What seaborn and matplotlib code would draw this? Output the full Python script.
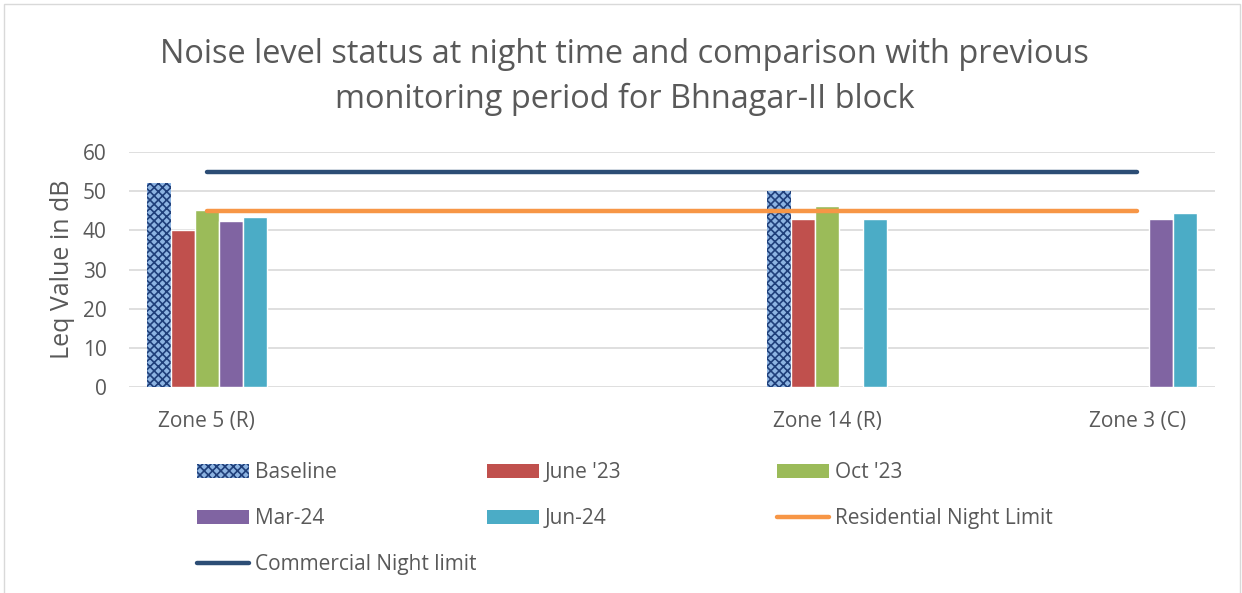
import numpy as np
import pandas as pd
import matplotlib
matplotlib.use("Agg")
import matplotlib.pyplot as plt
import seaborn as sns
from matplotlib.patches import Patch, Rectangle
from matplotlib.lines import Line2D

sns.set_theme(style="white")
plt.rcParams["font.family"] = ["Open Sans", "DejaVu Sans"]
plt.rcParams["hatch.linewidth"] = 1.2

# --- data ---
zones = ["Zone 5 (R)", "", "Zone 14 (R)", "Zone 3 (C)"]
periods = ["Baseline", "June '23", "Oct '23", "Mar-24", "Jun-24"]
baseline = [52, None, 50, None]
june23 = [40, None, 43, None]
oct23 = [45.2, None, 46.3, None]
mar24 = [42.3, None, None, 43]
jun24 = [43.4, None, 42.9, 44.5]
residential_limit = [45, 45, 45, 45]
commercial_limit = [55, 55, 55, 55]

colors = ["#8db4e2", "#c0504d", "#9bbb59", "#8064a2", "#4bacc6"]
res_color = "#f79646"
com_color = "#2c4d75"
grey = "#595959"

rows = []
for p, vals in zip(periods, [baseline, june23, oct23, mar24, jun24]):
    for z, v in zip(zones, vals):
        if v is not None:
            rows.append({"zone": z, "period": p, "value": v})
df = pd.DataFrame(rows)

fig = plt.figure(figsize=(12.42, 5.93), dpi=100)
ax = fig.add_axes([129 / 1242, 1 - 387 / 593, (1215 - 129) / 1242, (387 - 152) / 593])

sns.barplot(data=df, x="zone", y="value", hue="period", order=zones,
            hue_order=periods, palette=colors, width=0.387, saturation=1,
            errorbar=None, legend=False, ax=ax)

# textured look for baseline
for bar in ax.containers[0]:
    bar.set_hatch("xxxx")
    bar.set_edgecolor("#1f3f7a")
    bar.set_linewidth(0)

pos = np.arange(len(zones))
sns.lineplot(x=pos, y=commercial_limit, color=com_color, lw=3.2,
             solid_capstyle="round", ax=ax, legend=False)
sns.lineplot(x=pos, y=residential_limit, color=res_color, lw=3.2,
             solid_capstyle="round", ax=ax, legend=False)

ax.set_xlim(-0.25, 3.25)
ax.set_ylim(0, 60)
ax.set_yticks(range(0, 61, 10))
ax.yaxis.grid(True, color="#d9d9d9", lw=1.2)
ax.set_axisbelow(True)
for s in ax.spines.values():
    s.set_visible(False)
ax.tick_params(axis="y", colors=grey, labelsize=15, pad=16, length=0)
ax.tick_params(axis="x", colors=grey, labelsize=15, pad=17, length=0)
ax.set_xlabel("")
ax.set_ylabel("Leq Value in dB", fontsize=18, color=grey)
ax.yaxis.set_label_coords(-0.05, 0.5)

fig.text(0.503, 1 - 77 / 593,
         "Noise level status at night time and comparison with previous\n"
         "monitoring period for Bhnagar-II block",
         ha="center", va="center", fontsize=23.4, color=grey, linespacing=1.5)

# legend laid out in three columns like the original
h = {
    "Baseline": Patch(facecolor=colors[0], edgecolor="#1f3f7a", hatch="xxxx", lw=0),
    "June '23": Patch(facecolor=colors[1], lw=0),
    "Oct '23": Patch(facecolor=colors[2], lw=0),
    "Mar-24": Patch(facecolor=colors[3], lw=0),
    "Jun-24": Patch(facecolor=colors[4], lw=0),
    "Residential Night Limit": Line2D([], [], color=res_color, lw=3.2, solid_capstyle="round"),
    "Commercial Night limit": Line2D([], [], color=com_color, lw=3.2, solid_capstyle="round"),
}
cols = [["Baseline", "Mar-24", "Commercial Night limit"],
        ["June '23", "Jun-24"],
        ["Oct '23", "Residential Night Limit"]]
xs = [197, 487, 777]
for labs, x0 in zip(cols, xs):
    leg = fig.legend([h[l] for l in labs], labs, loc="upper left",
                     bbox_to_anchor=(x0 / 1242, 1 - 462 / 593), frameon=False,
                     fontsize=15, handlelength=2.5, handleheight=0.68,
                     handletextpad=0.27, labelspacing=1.2, borderpad=0,
                     borderaxespad=0)
    for t in leg.get_texts():
        t.set_color(grey)

fig.add_artist(Rectangle((4 / 1242, -0.01), 1236 / 1242, 1 - 4 / 593 + 0.01,
                         transform=fig.transFigure, fill=False,
                         edgecolor="#d9d9d9", lw=1))

fig.savefig("out.png", dpi=100)
